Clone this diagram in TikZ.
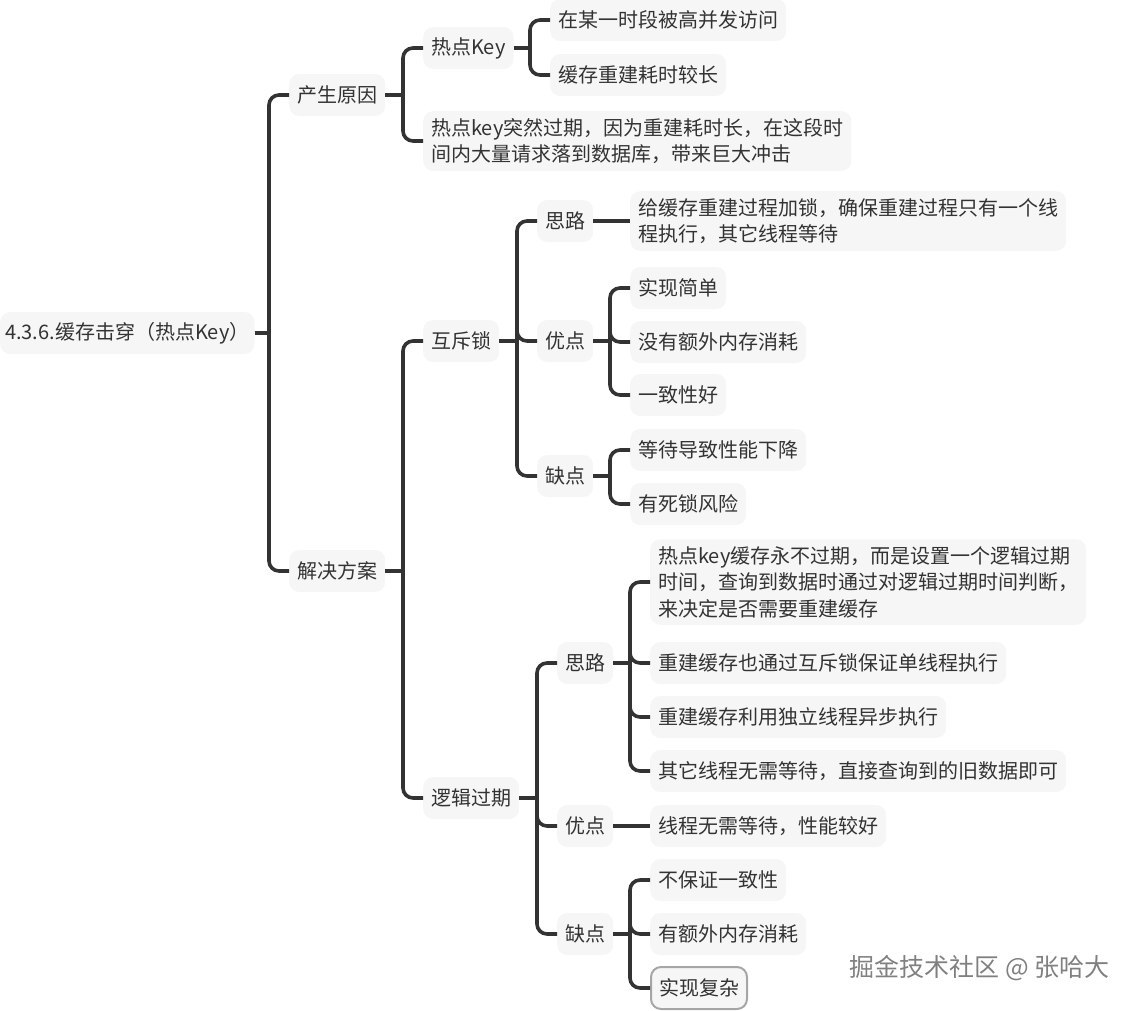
\documentclass[tikz,border=0pt]{standalone}
\usepackage{fontspec}
\setmainfont{Noto Sans CJK SC}
\definecolor{ink}{HTML}{333333}
\definecolor{boxfill}{HTML}{F6F6F6}
\newcommand{\fork}[2]{%
\draw[link] (#1.east)--([xshift=-20pt]#2.west |- #1.east);
\draw[link,rounded corners=10pt] ([xshift=-20pt]#2.west |- #1.east) |- (#2.west);}
\begin{document}
\begin{tikzpicture}[x=1pt,y=-1pt,
box/.style={anchor=west,fill=boxfill,rounded corners=10pt,inner xsep=8pt,inner ysep=7pt,minimum height=42pt,align=left,text=ink,font=\fontsize{20}{26.5}\selectfont},
link/.style={draw=ink,line width=3.6pt}]
\useasboundingbox (0,0) rectangle (1135,1010);
\node[box,inner xsep=5pt] (root) at (0,333) {4.3.6.缓存击穿（热点Key）};
\node[box] (cause) at (289,95) {产生原因};
\node[box] (hot) at (423,48) {热点Key};
\node[box] (hotA) at (550,20) {在某一时段被高并发访问};
\node[box] (hotB) at (550,75) {缓存重建耗时较长};
\node[box] (expire) at (423,141) {热点key突然过期，因为重建耗时长，在这段时\\间内大量请求落到数据库，带来巨大冲击};
\node[box] (fix) at (289,571) {解决方案};
\node[box] (mutex) at (423,341) {互斥锁};
\node[box] (idea1) at (537,221) {思路};
\node[box] (ideaA) at (630,221) {给缓存重建过程加锁，确保重建过程只有一个线\\程执行，其它线程等待};
\node[box] (pro1) at (537,341) {优点};
\node[box] (proA) at (630,288) {实现简单};
\node[box] (proB) at (630,342) {没有额外内存消耗};
\node[box] (proC) at (630,395) {一致性好};
\node[box] (con1) at (537,476) {缺点};
\node[box] (conA) at (630,450) {等待导致性能下降};
\node[box] (conB) at (630,504) {有死锁风险};
\node[box] (logic) at (423,798) {逻辑过期};
\node[box] (idea2) at (557,663) {思路};
\node[box] (ideaB) at (650,582) {热点key缓存永不过期，而是设置一个逻辑过期\\时间，查询到数据时通过对逻辑过期时间判断，\\来决定是否需要重建缓存};
\node[box] (ideaC) at (650,663) {重建缓存也通过互斥锁保证单线程执行};
\node[box] (ideaD) at (650,717) {重建缓存利用独立线程异步执行};
\node[box] (ideaE) at (650,771) {其它线程无需等待，直接查询到的旧数据即可};
\node[box] (pro2) at (557,826) {优点};
\node[box] (proD) at (650,826) {线程无需等待，性能较好};
\node[box] (con2) at (557,934) {缺点};
\node[box] (conC) at (650,880) {不保证一致性};
\node[box] (conD) at (650,934) {有额外内存消耗};
\node[box,draw=black!35,line width=2pt] (conE) at (650,988) {实现复杂};
\node[anchor=west,text=black!50,font=\fontsize{25}{30}\selectfont] (mark) at (846,968) {掘金技术社区 @ 张哈大};
% branches
\fork{root}{cause}\fork{root}{fix}
\fork{cause}{hot}\fork{cause}{expire}
\fork{hot}{hotA}\fork{hot}{hotB}
\fork{fix}{mutex}\fork{fix}{logic}
\fork{mutex}{idea1}\fork{mutex}{pro1}\fork{mutex}{con1}
\draw[link] (idea1.east)--(ideaA.west);
\fork{pro1}{proA}\fork{pro1}{proB}\fork{pro1}{proC}
\fork{con1}{conA}\fork{con1}{conB}
\fork{logic}{idea2}\fork{logic}{pro2}\fork{logic}{con2}
\fork{idea2}{ideaB}\fork{idea2}{ideaC}\fork{idea2}{ideaD}\fork{idea2}{ideaE}
\draw[link] (pro2.east)--(proD.west);
\fork{con2}{conC}\fork{con2}{conD}\fork{con2}{conE}
\end{tikzpicture}
\end{document}
